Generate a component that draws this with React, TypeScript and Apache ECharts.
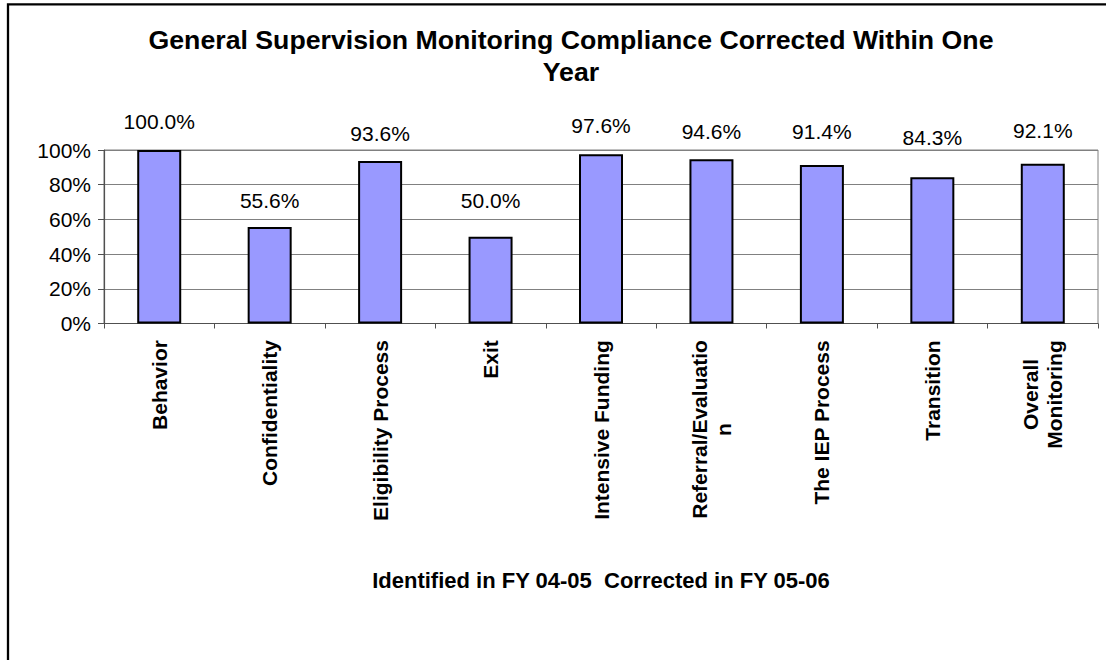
import React, { useEffect, useRef } from "react";
import * as echarts from "echarts";

const categories = [
  "Behavior",
  "Confidentiality",
  "Eligibility Process",
  "Exit",
  "Intensive Funding",
  "Referral/Evaluatio\nn",
  "The IEP Process",
  "Transition",
  "Overall\nMonitoring",
];
const compliance = [100.0, 55.6, 93.6, 50.0, 97.6, 94.6, 91.4, 84.3, 92.1];
const yTicks = [0, 20, 40, 60, 80, 100];

const titleText = "General Supervision Monitoring Compliance Corrected Within One\nYear";
const xAxisTitle = "Identified in FY 04-05  Corrected in FY 05-06";

const FONT = "'Liberation Sans', Arial, sans-serif";
const CAT_SIZE = 21;

function measure(text: string, size: number, weight: string) {
  const c = document.createElement("canvas");
  const ctx = c.getContext("2d");
  if (!ctx) return text.length * size * 0.55;
  ctx.font = `${weight} ${size}px 'Liberation Sans', Arial, sans-serif`;
  return ctx.measureText(text).width;
}

export default function App() {
  const ref = useRef<HTMLDivElement>(null);
  useEffect(() => {
    if (!ref.current) return;
    const chart = echarts.init(ref.current, undefined, { renderer: "svg" });

    // vertical nudges of the value labels, as placed in the original
    const labelShift = [-1, 1, 0, -8.5, -1, 0, -5.5, -12.5, -6];

    const rich: Record<string, any> = {};
    categories.forEach((c, i) => {
      const lines = c.split("\n");
      const w = Math.max(...lines.map((l) => measure(l, CAT_SIZE, "bold")));
      rich["c" + i] = {
        width: Math.ceil(w) + 1,
        align: "center",
        fontFamily: FONT,
        fontWeight: "bold",
        fontSize: CAT_SIZE,
        lineHeight: 24,
        color: "#000",
      };
    });

    chart.setOption({
      animation: false,
      backgroundColor: "#fff",
      title: {
        text: titleText,
        left: 571,
        top: 24,
        padding: 0,
        textAlign: "center",
        textStyle: {
          fontFamily: FONT,
          fontWeight: "bold",
          fontSize: 26.7,
          lineHeight: 32,
          color: "#000",
        },
      },
      graphic: [
        {
          type: "rect",
          shape: { x: 8, y: 4.3, width: 1300, height: 900 },
          style: { fill: "none", stroke: "#000", lineWidth: 2.3 },
          silent: true,
        },
      ],
      grid: {
        left: 104,
        right: 8,
        top: 150,
        bottom: 336.5,
        show: true,
        borderColor: "#808080",
        borderWidth: 1,
        backgroundColor: "#fff",
      },
      xAxis: {
        type: "category",
        data: categories,
        name: xAxisTitle,
        nameLocation: "middle",
        nameGap: 246,
        nameTextStyle: {
          fontFamily: FONT,
          fontWeight: "bold",
          fontSize: 22,
          color: "#000",
        },
        axisLine: { lineStyle: { color: "#505050", width: 1.2 } },
        axisTick: { show: true, length: 5, lineStyle: { color: "#505050" } },
        axisLabel: {
          rotate: 90,
          margin: 16,
          interval: 0,
          formatter: (v: string, i: number) =>
            v
              .split("\n")
              .map((l) => `{c${i}|${l}}`)
              .join("\n"),
          rich,
        },
      },
      yAxis: {
        type: "value",
        min: yTicks[0],
        max: yTicks[yTicks.length - 1],
        interval: 20,
        axisLine: { show: true, lineStyle: { color: "#505050", width: 1.2 } },
        axisTick: { show: true, length: 6, lineStyle: { color: "#505050" } },
        splitLine: { lineStyle: { color: "#808080", width: 1.2 } },
        axisLabel: {
          formatter: "{value}%",
          fontFamily: FONT,
          fontSize: 21,
          color: "#000",
          margin: 13,
        },
      },
      series: [
        {
          type: "bar",
          data: compliance.map((v, i) => ({
            value: v,
            label: { offset: [0, labelShift[i]] },
          })),
          barWidth: 44,
          itemStyle: { color: "#9999FF", borderColor: "#000", borderWidth: 2 },
          label: {
            show: true,
            position: "top",
            distance: 17,
            formatter: (p: any) => Number(p.value).toFixed(1) + "%",
            fontFamily: FONT,
            fontSize: 21,
            color: "#000",
          },
        },
      ],
    });
    return () => chart.dispose();
  }, []);
  return (
    <div
      ref={ref}
      style={{ position: "fixed", left: 0, top: 0, width: 1106, height: 660 }}
    />
  );
}
